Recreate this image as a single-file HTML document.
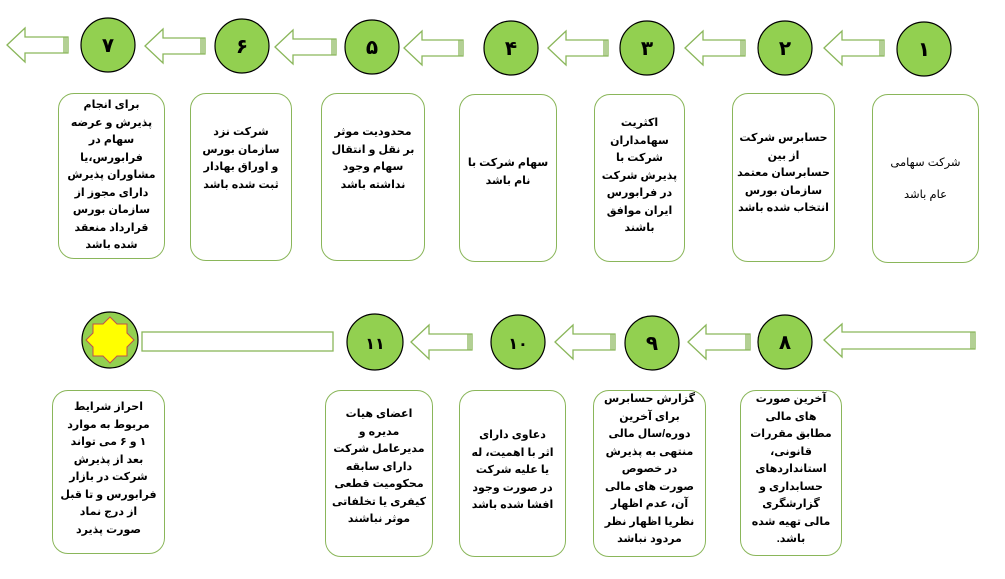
<!DOCTYPE html>
<html><head><meta charset="utf-8"><style>
body{margin:0;background:#fff;width:1005px;height:579px;overflow:hidden;position:relative;font-family:"Liberation Sans","DejaVu Sans",sans-serif}
.b{position:absolute;border:1.3px solid #8ab65a;border-radius:16px;box-sizing:border-box;direction:rtl;text-align:center;font-size:11px;font-weight:bold;line-height:17.5px;color:#000}
svg{position:absolute;left:0;top:0}
</style></head><body>
<svg width="1005" height="579">
<g fill="#fff" stroke="#8ab65a" stroke-width="1.3">
<path d="M7 45 L25 28 L25 37 L68 37 L68 53 L25 53 L25 62 Z"/>
<path d="M145 46 L163 29 L163 38 L205 38 L205 54 L163 54 L163 63 Z"/>
<path d="M275 47 L293 30 L293 39 L336 39 L336 55 L293 55 L293 64 Z"/>
<path d="M404 48 L422 31 L422 40 L463 40 L463 56 L422 56 L422 65 Z"/>
<path d="M548 48 L566 31 L566 40 L608 40 L608 56 L566 56 L566 65 Z"/>
<path d="M685 48 L703 31 L703 40 L745 40 L745 56 L703 56 L703 65 Z"/>
<path d="M824 48 L842 31 L842 40 L884 40 L884 56 L842 56 L842 65 Z"/>
<path d="M411 342 L429 325 L429 334 L472 334 L472 350 L429 350 L429 359 Z"/>
<path d="M555 342 L573 325 L573 334 L615 334 L615 350 L573 350 L573 359 Z"/>
<path d="M688 342 L706 325 L706 334 L750 334 L750 350 L706 350 L706 359 Z"/>
<path d="M824 340 L842 324 L842 332 L975 332 L975 349 L842 349 L842 357 Z"/>
<rect x="142" y="332" width="191" height="19"/>
</g>
<g stroke="#8ab65a" stroke-width="1.3">
<line x1="64" y1="37" x2="64" y2="53"/><line x1="66" y1="37" x2="66" y2="53"/>
<line x1="201" y1="38" x2="201" y2="54"/><line x1="203" y1="38" x2="203" y2="54"/>
<line x1="332" y1="39" x2="332" y2="55"/><line x1="334" y1="39" x2="334" y2="55"/>
<line x1="459" y1="40" x2="459" y2="56"/><line x1="461" y1="40" x2="461" y2="56"/>
<line x1="604" y1="40" x2="604" y2="56"/><line x1="606" y1="40" x2="606" y2="56"/>
<line x1="741" y1="40" x2="741" y2="56"/><line x1="743" y1="40" x2="743" y2="56"/>
<line x1="880" y1="40" x2="880" y2="56"/><line x1="882" y1="40" x2="882" y2="56"/>
<line x1="468" y1="334" x2="468" y2="350"/><line x1="470" y1="334" x2="470" y2="350"/>
<line x1="611" y1="334" x2="611" y2="350"/><line x1="613" y1="334" x2="613" y2="350"/>
<line x1="746" y1="334" x2="746" y2="350"/><line x1="748" y1="334" x2="748" y2="350"/>
<line x1="971" y1="332" x2="971" y2="349"/><line x1="973" y1="332" x2="973" y2="349"/>
</g>
<g fill="#92d050" stroke="#000" stroke-width="1.2">
<circle cx="108" cy="45" r="27"/><circle cx="242" cy="46" r="27"/><circle cx="372" cy="47" r="27"/>
<circle cx="511" cy="48" r="27"/><circle cx="647" cy="48" r="27"/><circle cx="785" cy="48" r="27"/>
<circle cx="924" cy="49" r="27"/>
<circle cx="110" cy="340" r="28"/><circle cx="375" cy="342" r="28"/><circle cx="518" cy="342" r="27"/>
<circle cx="652" cy="343" r="27"/><circle cx="785" cy="342" r="27"/>
</g>
<polygon fill="#ffff00" stroke="#c0504d" stroke-width="1" points="110,317 117,324 127,324 127,333 134,340 127,347 127,356 117,356 110,363 103,356 93,356 93,347 86,340 93,333 93,324 103,324"/>
<g font-family="'Liberation Sans','DejaVu Sans',sans-serif" font-weight="bold" font-size="20" text-anchor="middle" fill="#000">
<text x="108" y="52">٧</text><text x="242" y="53">۶</text><text x="372" y="54">۵</text>
<text x="511" y="55">۴</text><text x="647" y="55">۳</text><text x="785" y="55">۲</text><text x="924" y="56">۱</text>
<text x="375" y="349" font-size="16">۱۱</text><text x="518" y="349" font-size="16">۱۰</text>
<text x="652" y="350">۹</text><text x="785" y="349">۸</text>
</g>
</svg>

<div class="b" style="left:58px;top:93px;width:107px;height:166px;padding-top:3px">برای انجام<br>پذیرش و عرضه<br>سهام در<br>فرابورس،یا<br>مشاوران پذیرش<br>دارای مجوز از<br>سازمان بورس<br>قرارداد منعقد<br>شده باشد</div>
<div class="b" style="left:190px;top:93px;width:102px;height:168px;padding-top:30px">شرکت نزد<br>سازمان بورس<br>و اوراق بهادار<br>ثبت شده باشد</div>
<div class="b" style="left:321px;top:93px;width:104px;height:168px;padding-top:30px">محدودیت موثر<br>بر نقل و انتقال<br>سهام وجود<br>نداشته باشد</div>
<div class="b" style="left:459px;top:94px;width:98px;height:168px;padding-top:60px">سهام شرکت با<br>نام باشد</div>
<div class="b" style="left:594px;top:94px;width:91px;height:168px;padding-top:20px">اکثریت<br>سهامداران<br>شرکت با<br>پذیرش شرکت<br>در فرابورس<br>ایران موافق<br>باشند</div>
<div class="b" style="left:732px;top:93px;width:103px;height:169px;padding-top:36px">حسابرس شرکت<br>از بین<br>حسابرسان معتمد<br>سازمان بورس<br>انتخاب شده باشد</div>
<div class="b" style="left:872px;top:94px;width:107px;height:169px;padding-top:52px;font-weight:normal;font-size:11.5px;line-height:32px">شرکت سهامی<br>عام باشد</div>

<div class="b" style="left:52px;top:390px;width:113px;height:164px;padding-top:8px">احراز شرایط<br>مربوط به موارد<br>۱ و ۶ می تواند<br>بعد از پذیرش<br>شرکت در بازار<br>فرابورس و تا قبل<br>از درج نماد<br>صورت پذیرد</div>
<div class="b" style="left:325px;top:390px;width:108px;height:167px;padding-top:15px">اعضای هیات<br>مدیره و<br>مدیرعامل شرکت<br>دارای سابقه<br>محکومیت قطعی<br>کیفری یا تخلفاتی<br>موثر نباشند</div>
<div class="b" style="left:459px;top:390px;width:107px;height:167px;padding-top:36px">دعاوی دارای<br>اثر با اهمیت، له<br>یا علیه شرکت<br>در صورت وجود<br>افشا شده باشد</div>
<div class="b" style="left:593px;top:390px;width:113px;height:167px;padding-top:0px">گزارش حسابرس<br>برای آخرین<br>دوره/سال مالی<br>منتهی به پذیرش<br>در خصوص<br>صورت های مالی<br>آن، عدم اظهار<br>نظریا اظهار نظر<br>مردود نباشد</div>
<div class="b" style="left:740px;top:390px;width:102px;height:166px;padding-top:0px">آخرین صورت<br>های مالی<br>مطابق مقررات<br>قانونی،<br>استانداردهای<br>حسابداری و<br>گزارشگری<br>مالی تهیه شده<br>باشد.</div>
</body></html>
